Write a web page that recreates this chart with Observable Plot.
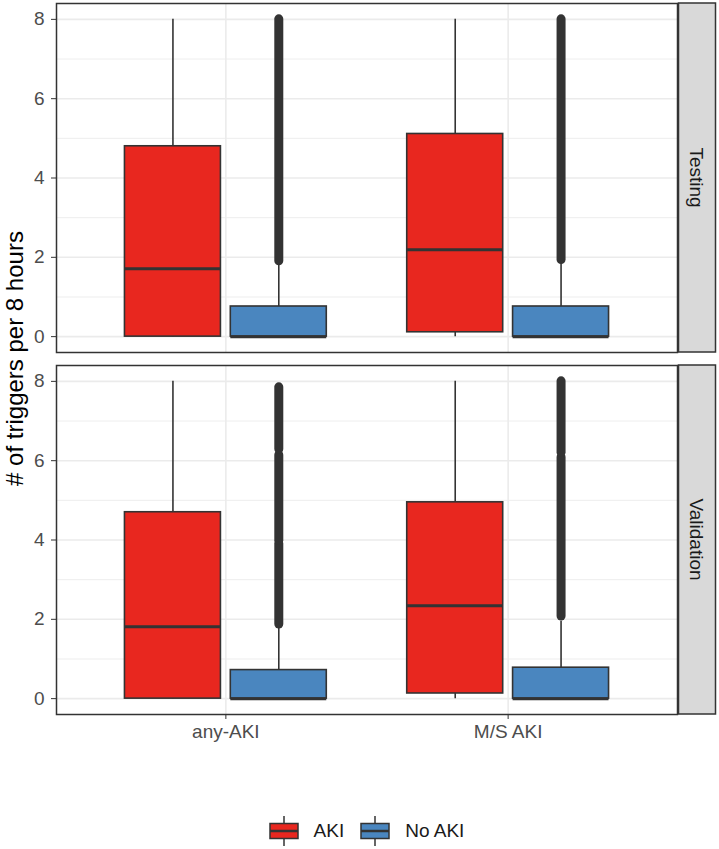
<!DOCTYPE html>
<html><head><meta charset="utf-8">
<script src="https://cdn.jsdelivr.net/npm/d3@7"></script>
<script src="https://cdn.jsdelivr.net/npm/@observablehq/plot@0.6"></script>
<style>
body{margin:0;background:#fff;font-family:"Liberation Sans",Arial,sans-serif}
#chart{position:relative;width:719px;height:849px}
#legend{position:absolute;top:816px;left:56px;width:621px;display:flex;justify-content:center;align-items:center;font-size:19px;color:#1A1A1A}
.item{display:flex;align-items:center;margin:0 8px}
.item svg{margin-right:15px}
</style>
</head><body><div id="chart"><div id="legend"></div></div>
<script>
const facetNames = ["Testing", "Validation"];
const categories = ["any-AKI", "M/S AKI"];
const groups = ["AKI", "No AKI"];
const groupColors = ["#E8271F", "#4A86BF"];

const boxFacet = ["Testing","Testing","Testing","Testing","Validation","Validation","Validation","Validation"];
const boxCategory = ["any-AKI","any-AKI","M/S AKI","M/S AKI","any-AKI","any-AKI","M/S AKI","M/S AKI"];
const boxGroup = ["AKI","No AKI","AKI","No AKI","AKI","No AKI","AKI","No AKI"];
const boxLower = [0, 0, 0, 0, 0, 0, 0, 0];
const boxQ1 = [0, 0, 0.11, 0, 0, 0, 0.13, 0];
const boxMedian = [1.71, 0, 2.19, 0, 1.81, 0, 2.34, 0];
const boxQ3 = [4.80, 0.76, 5.11, 0.76, 4.70, 0.72, 4.95, 0.78];
const boxUpper = [8, 1.88, 8, 1.90, 8, 1.80, 8, 1.95];

const outFacet = ["Testing","Testing","Validation","Validation","Validation","Validation","Validation"];
const outCategory = ["any-AKI","M/S AKI","any-AKI","any-AKI","any-AKI","M/S AKI","M/S AKI"];
const outGroup = ["No AKI","No AKI","No AKI","No AKI","No AKI","No AKI","No AKI"];
const outLow = [1.90, 1.93, 1.87, 3.98, 6.28, 2.07, 6.20];
const outHigh = [8.00, 8.00, 3.90, 6.14, 7.85, 6.08, 8.00];

const yMajor = [0, 2, 4, 6, 8];
const yMinor = [1, 3, 5, 7];

const dodge = 0.1875, halfWidth = 0.17;
const xPos = (c, g) => categories.indexOf(c) + 1 + (groups.indexOf(g) - 0.5) * 2 * dodge;

const boxes = boxFacet.map((f, i) => ({
  facet: f, category: boxCategory[i], group: boxGroup[i],
  lower: boxLower[i], q1: boxQ1[i], median: boxMedian[i], q3: boxQ3[i], upper: boxUpper[i]
}));
const outliers = outFacet.map((f, i) => ({
  facet: f, category: outCategory[i], group: outGroup[i], low: outLow[i], high: outHigh[i]
}));

const plot = Plot.plot({
  width: 719, height: 770,
  marginLeft: 56, marginRight: 42, marginTop: 3, marginBottom: 56,
  style: {fontFamily: '"Liberation Sans", Arial, sans-serif', background: "#fff"},
  x: {domain: [0.4, 2.6], axis: null},
  y: {domain: [-0.4, 8.4], axis: null},
  fy: {domain: facetNames, paddingInner: 0.036, paddingOuter: 0, axis: null, label: null},
  color: {domain: groups, range: groupColors},
  marks: [
    Plot.ruleY(yMinor, {stroke: "#EBEBEB", strokeWidth: 0.9}),
    Plot.ruleY(yMajor, {stroke: "#EBEBEB", strokeWidth: 1.6}),
    Plot.ruleX([1, 2], {stroke: "#EBEBEB", strokeWidth: 1.6}),
    Plot.ruleX(boxes, {x: d => xPos(d.category, d.group), y1: "lower", y2: "upper", fy: "facet", stroke: "#333", strokeWidth: 1.6}),
    Plot.rect(boxes, {x1: d => xPos(d.category, d.group) - halfWidth, x2: d => xPos(d.category, d.group) + halfWidth,
      y1: "q1", y2: "q3", fy: "facet", fill: "group", stroke: "#333", strokeWidth: 1.6}),
    Plot.ruleY(boxes, {x1: d => xPos(d.category, d.group) - halfWidth, x2: d => xPos(d.category, d.group) + halfWidth,
      y: "median", fy: "facet", stroke: "#333", strokeWidth: 3}),
    Plot.ruleX(outliers, {x: d => xPos(d.category, d.group), y1: "low", y2: "high", fy: "facet",
      stroke: "#333", strokeWidth: 9, strokeLinecap: "round"}),
    Plot.frame({stroke: "#333", strokeWidth: 1.5}),
    Plot.axisY({ticks: yMajor, tickSize: 5, tickPadding: 7, fontSize: 19, label: null, stroke: "#333", fill: "#4D4D4D"}),
    Plot.axisX({ticks: [1, 2], tickFormat: d => categories[d - 1], tickSize: 5, tickPadding: 5, fontSize: 19, label: null, stroke: "#333", fill: "#4D4D4D"})
  ]
});

const svg = d3.select(plot);
const fy = plot.scale("fy");
const xr = plot.scale("x").range;
const stripX = Math.max(xr[0], xr[1]) + 1.5;
facetNames.forEach(f => {
  const y0 = fy.apply(f);
  const bw = fy.bandwidth;
  svg.append("rect").attr("x", stripX).attr("y", y0).attr("width", 37).attr("height", bw)
    .attr("fill", "#D9D9D9").attr("stroke", "#333").attr("stroke-width", 1.5);
  svg.append("text").attr("transform", `translate(${stripX + 18.5},${y0 + bw / 2}) rotate(90)`)
    .attr("text-anchor", "middle").attr("dy", "0.35em").attr("font-size", 19).attr("fill", "#1A1A1A")
    .text(f);
});
const yr = fy.range;
svg.append("text").attr("transform", `translate(15,${(yr[0] + yr[1]) / 2}) rotate(-90)`)
  .attr("text-anchor", "middle").attr("dy", "0.35em").attr("font-size", 24).attr("fill", "#000")
  .text("# of triggers per 8 hours");

document.getElementById("chart").prepend(plot);

const legend = d3.select("#legend");
groups.forEach((g, i) => {
  const item = legend.append("div").attr("class", "item");
  const s = item.append("svg").attr("width", 30).attr("height", 30);
  s.append("line").attr("x1", 15).attr("x2", 15).attr("y1", 0).attr("y2", 30).attr("stroke", "#333").attr("stroke-width", 1.5);
  s.append("rect").attr("x", 1).attr("y", 7.5).attr("width", 28).attr("height", 15).attr("fill", groupColors[i]).attr("stroke", "#333").attr("stroke-width", 1.5);
  s.append("line").attr("x1", 1).attr("x2", 29).attr("y1", 15).attr("y2", 15).attr("stroke", "#333").attr("stroke-width", 2.5);
  item.append("span").text(g);
});
</script>
</body></html>
